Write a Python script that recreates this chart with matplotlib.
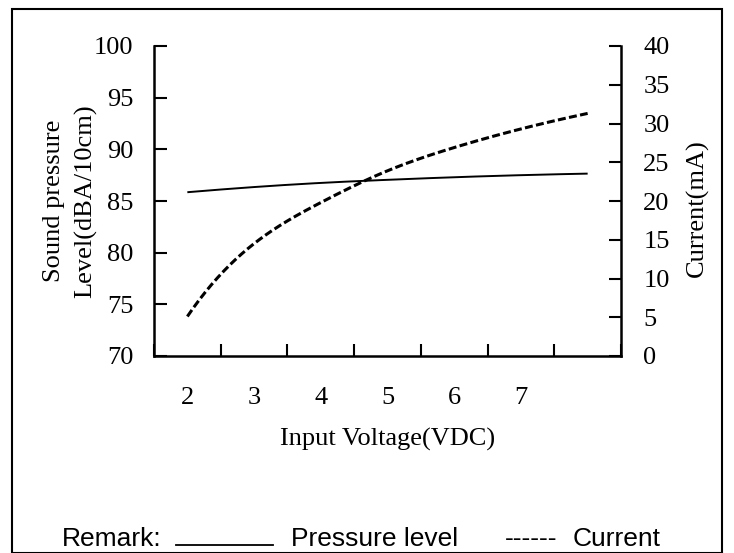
import numpy as np
import matplotlib
matplotlib.use("Agg")
import matplotlib.pyplot as plt
from matplotlib.lines import Line2D
from matplotlib.patches import Rectangle

# ---- data ----
voltage = [2, 3, 4, 5, 6, 7, 8]
tick_labels = ["2", "3", "4", "5", "6", "7", ""]
pressure = [85.85, 86.35, 86.75, 87.05, 87.3, 87.5, 87.65]
current = [5.1, 14.5, 19.8, 23.9, 26.9, 29.3, 31.3]

def smooth(x, y, n=200):
    # not-a-knot cubic spline through the points, for a smoothed display line
    x = np.asarray(x, float); y = np.asarray(y, float)
    m = len(x) - 1
    h = np.diff(x)
    A = np.zeros((m + 1, m + 1)); b = np.zeros(m + 1)
    for i in range(1, m):
        A[i, i-1] = h[i-1]; A[i, i] = 2*(h[i-1] + h[i]); A[i, i+1] = h[i]
        b[i] = 6*((y[i+1]-y[i])/h[i] - (y[i]-y[i-1])/h[i-1])
    A[0, 0] = h[1]; A[0, 1] = -(h[0] + h[1]); A[0, 2] = h[0]
    A[m, m-2] = h[m-1]; A[m, m-1] = -(h[m-2] + h[m-1]); A[m, m] = h[m-2]
    M = np.linalg.solve(A, b)
    xs = np.linspace(x[0], x[-1], n)
    idx = np.clip(np.searchsorted(x, xs) - 1, 0, m - 1)
    x0, x1 = x[idx], x[idx+1]; hh = x1 - x0
    ys = (M[idx]*(x1-xs)**3/(6*hh) + M[idx+1]*(xs-x0)**3/(6*hh)
          + (y[idx]/hh - M[idx]*hh/6)*(x1-xs) + (y[idx+1]/hh - M[idx+1]*hh/6)*(xs-x0))
    return xs, ys

W, H = 734, 553
fig = plt.figure(figsize=(W/100, H/100), dpi=100)
serif = "Liberation Serif"
sans = "Liberation Sans"
FS = 19

ax = fig.add_axes([154/W, 1-356/H, (621-154)/W, (356-46)/H])
ax2 = ax.twinx()

sx, sy = smooth(voltage, pressure)
ax.plot(sx, sy, color="black", lw=1.4, solid_capstyle="butt")
cx, cy = smooth(voltage, current)
ax2.plot(cx, cy, color="black", lw=2.2, linestyle=(0, (2.6, 1.1)), dash_capstyle="butt")

ax.set_xlim(1.5, 8.5)
ax.set_ylim(70, 100)
ax2.set_ylim(0, 40)

ax.set_xticks(np.arange(1.5, 9.0, 1.0))
ax.set_xticklabels([])
ax.set_xticks(voltage, minor=True)
ax.set_xticklabels(tick_labels, minor=True, fontfamily=serif, fontsize=FS)
ax.tick_params(axis="x", which="major", direction="in", length=9, width=1.5)
ax.tick_params(axis="x", which="minor", length=0, pad=22)

ax.set_yticks(np.arange(70, 101, 5))
ax.tick_params(axis="y", direction="in", length=9, width=1.5, pad=15, labelsize=FS)
ax2.set_yticks(np.arange(0, 41, 5))
ax2.tick_params(axis="y", direction="in", length=9, width=1.5, pad=16, labelsize=FS)
for lab in ax.get_yticklabels() + ax2.get_yticklabels():
    lab.set_fontfamily(serif)

for a in (ax, ax2):
    a.spines["top"].set_visible(False)
    for s in ("left", "right", "bottom"):
        a.spines[s].set_linewidth(1.8)
ax2.spines["left"].set_visible(False)
ax2.spines["bottom"].set_visible(False)
ax.spines["right"].set_visible(False)

ax.set_xlabel("Input Voltage(VDC)", fontfamily=serif, fontsize=FS, labelpad=14)
ax.set_ylabel("Sound pressure\nLevel(dBA/10cm)", fontfamily=serif, fontsize=FS,
              labelpad=-2.5, linespacing=1.5)
ax2.set_ylabel("Current(mA)", fontfamily=serif, fontsize=FS)
ax2.yaxis.set_label_coords((686 - 154) / (621 - 154), (356 - 208) / (356 - 46))

# outer border
fig.patches.append(Rectangle((12/W, 0), (722-12)/W, 1-9/H, transform=fig.transFigure,
                             fill=False, edgecolor="black", lw=1.5))

# remark legend
yb = 1-546/H
fig.text(62/W, yb, "Remark:", fontfamily=sans, fontsize=FS, va="baseline")
fig.add_artist(Line2D([176/W, 273/W], [1-545/H, 1-545/H], color="black", lw=1.3,
                      transform=fig.transFigure))
fig.text(291/W, yb, "Pressure level", fontfamily=sans, fontsize=FS, va="baseline")
fig.text(505/W, yb, "------", fontfamily=sans, fontsize=FS, va="baseline")
fig.text(573/W, yb, "Current", fontfamily=sans, fontsize=FS, va="baseline")

fig.savefig("out.png", dpi=100)
